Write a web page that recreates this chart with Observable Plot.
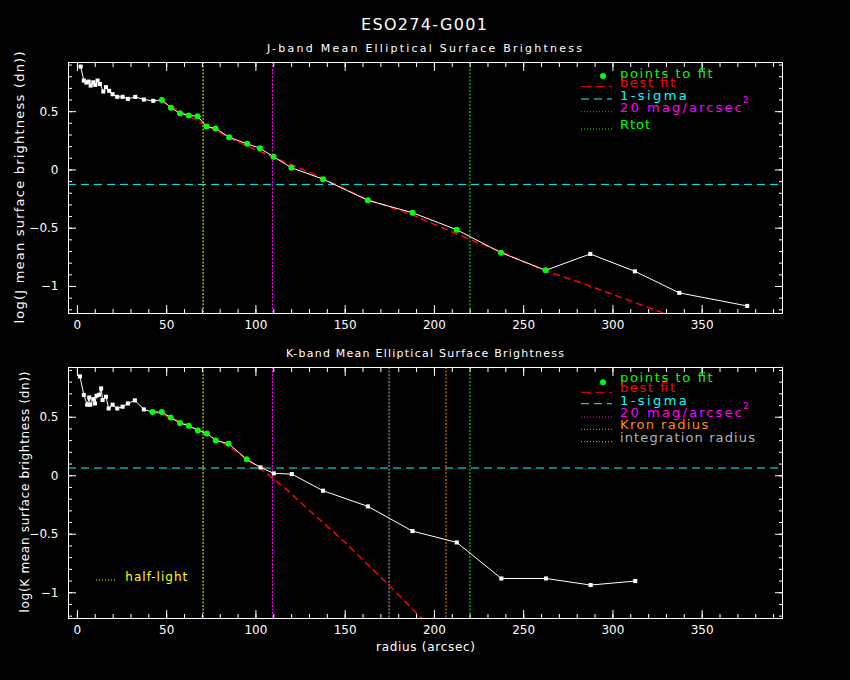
<!DOCTYPE html>
<html><head><meta charset="utf-8">
<script src="https://cdn.jsdelivr.net/npm/d3@7"></script>
<script src="https://cdn.jsdelivr.net/npm/@observablehq/plot@0.6"></script>
<style>
html,body{margin:0;padding:0;background:#000;}
#wrap{position:relative;width:850px;height:680px;background:#000;overflow:hidden;}
#wrap svg{position:absolute;left:0;}
</style></head><body><div id="wrap"></div>
<script>
// ---------- text ----------
const title = "ESO274-G001";
const jSubtitle = "J-band Mean Elliptical Surface Brightness";
const kSubtitle = "K-band Mean Elliptical Surface Brightness";
const jYLabel = "log(J mean surface brightness (dn))";
const kYLabel = "log(K mean surface brightness (dn))";
const xLabel = "radius (arcsec)";

// ---------- ticks ----------
const xTicks = [0, 50, 100, 150, 200, 250, 300, 350];
const yTicks = [-1, -0.5, 0, 0.5];

// ---------- J band profile ----------
const jRadius = [1.8, 3.6, 5.0, 6.3, 7.4, 8.9, 10.0, 11.3, 12.6, 14.5, 16.0, 17.8, 19.7, 22.3, 25.3, 28.3, 32.4, 37.2, 42.5,
  47.3, 52.4, 57.4, 62.4, 67.3, 72.3, 77.4, 85.0, 95.1, 102.2, 109.9, 119.9, 137.6, 162.7, 187.7, 212.5, 237.3, 262.3,
  287.3, 312.3, 337.2, 375.2];
const jValue = [0.887, 0.767, 0.75, 0.758, 0.724, 0.752, 0.73, 0.767, 0.738, 0.673, 0.71, 0.679, 0.65, 0.627, 0.627, 0.61, 0.627, 0.604, 0.593,
  0.601, 0.533, 0.487, 0.467, 0.461, 0.373, 0.356, 0.281, 0.224, 0.187, 0.113, 0.019, -0.079, -0.261, -0.367, -0.513, -0.71, -0.861,
  -0.721, -0.870, -1.055, -1.167];
const jFitRange = [47, 263];
const jFitRadius = [47, 50, 68.6, 88, 104, 132, 162.7, 187, 214, 237, 262, 285, 329];
const jFitValue = [0.59, 0.567, 0.41, 0.253, 0.147, -0.033, -0.255, -0.38, -0.56, -0.70, -0.865, -0.984, -1.232];
const jSigma = -0.124;
const jHalfLight = 70.4, jMag20 = 109.3, jRtot = 219.9;

// ---------- K band profile ----------
const kRadius = [1.4, 3.6, 5.5, 6.6, 7.2, 8.9, 9.8, 10.7, 12.2, 13.3, 14.1, 16.0, 17.5, 19.7, 22.3, 25.3, 28.3, 32.2, 37.2,
  42.1, 47.3, 52.2, 57.4, 62.4, 67.5, 72.5, 77.5, 84.7, 94.8, 102.6, 110.0, 120.1, 137.6, 162.7, 187.7, 212.5, 237.5, 262.5,
  287.5, 312.5];
const kValue = [0.849, 0.69, 0.607, 0.669, 0.607, 0.655, 0.618, 0.684, 0.692, 0.746, 0.647, 0.675, 0.575, 0.607, 0.575, 0.59, 0.618, 0.644, 0.567,
  0.544, 0.544, 0.498, 0.45, 0.427, 0.387, 0.362, 0.302, 0.274, 0.14, 0.071, 0.02, 0.014, -0.128, -0.262, -0.473, -0.57, -0.878, -0.878,
  -0.934, -0.9];
const kFitRange = [42, 95];
const kFitRadius = [42, 52, 62, 72, 85, 95, 105, 110, 117, 128, 149, 173, 193];
const kFitValue = [0.55, 0.50, 0.43, 0.36, 0.25, 0.14, 0.035, -0.03, -0.114, -0.27, -0.556, -0.912, -1.22];
const kSigma = 0.066;
const kHalfLight = 70.4, kMag20 = 109.3, kIntegration = 174.6, kKron = 206.5, kRtot = 219.9;

// ---------- legends ----------
const jLegendLabels = ["points to fit", "best fit", "1-sigma", "20 mag/arcsec", "Rtot"];
const kLegendLabels = ["points to fit", "best fit", "1-sigma", "20 mag/arcsec", "Kron radius", "integration radius"];

const C = {green:"#00ff00", red:"#ff0000", cyan:"#00ffff", magenta:"#ff00ff", yellow:"#ffff00", orange:"#ff8c00", grey:"#b4b4b4"};

function panel(o) {
  const pts = o.radius.map((r, i) => ({r, v: o.value[i]}));
  const fitPts = pts.filter(d => d.r >= o.fitRange[0] && d.r <= o.fitRange[1]);
  const model = o.fitRadius.map((r, i) => ({r, v: o.fitValue[i]}));
  const xMinor = d3.range(0, 400, 10);
  const yMinor = d3.range(-12, 10).map(i => i / 10);
  const fmt = d => d === 0 ? "0" : String(d).replace("-", "\u2212");
  const none = () => "";
  return Plot.plot({
    width: 850, height: 340,
    marginLeft: 68, marginRight: 68, marginTop: o.mt, marginBottom: o.mb,
    x: {domain: [-5, 395]},
    y: {domain: o.ydomain},
    style: {background: "black", color: "white", fontFamily: "DejaVu Sans, sans-serif", fontSize: "12px", overflow: "visible"},
    marks: [
      Plot.ruleY([o.sigma], {stroke: C.cyan, strokeDasharray: "8,5"}),
      ...o.vlines.map(v => Plot.ruleX([v.x], {stroke: v.color, strokeDasharray: "2,1.5"})),
      Plot.line(model, {x: "r", y: "v", stroke: C.red, strokeDasharray: "6,5"}),
      Plot.line(pts, {x: "r", y: "v", stroke: "white", strokeWidth: 1}),
      Plot.dot(pts, {x: "r", y: "v", symbol: "square", r: 2.3, fill: "white"}),
      Plot.dot(fitPts, {x: "r", y: "v", r: 3, fill: C.green}),
      Plot.axisX(xMinor, {anchor: "bottom", tickSize: -4, tickFormat: none, label: null}),
      Plot.axisX(xTicks, {anchor: "bottom", tickSize: -8, tickPadding: 15, tickFormat: fmt, label: null}),
      Plot.axisX(xMinor, {anchor: "top", tickSize: -4, tickFormat: none, label: null}),
      Plot.axisX(xTicks, {anchor: "top", tickSize: -8, tickFormat: none, label: null}),
      Plot.axisY(yMinor, {anchor: "left", tickSize: -4, tickFormat: none, label: null}),
      Plot.axisY(yTicks, {anchor: "left", tickSize: -8, tickPadding: 18, tickFormat: fmt, label: null}),
      Plot.axisY(yMinor, {anchor: "right", tickSize: -4, tickFormat: none, label: null}),
      Plot.axisY(yTicks, {anchor: "right", tickSize: -8, tickFormat: none, label: null}),
      Plot.frame({stroke: "white"})
    ]
  });
}

const wrap = document.getElementById("wrap");
const top1 = panel({radius: jRadius, value: jValue, fitRange: jFitRange, fitRadius: jFitRadius, fitValue: jFitValue,
  sigma: jSigma, ydomain: [-1.232, 0.922], mt: 62, mb: 27,
  vlines: [{x: jHalfLight, color: C.yellow}, {x: jMag20, color: C.magenta}, {x: jRtot, color: C.green}]});
top1.style.top = "0px";
wrap.appendChild(top1);

const bot = panel({radius: kRadius, value: kValue, fitRange: kFitRange, fitRadius: kFitRadius, fitValue: kFitValue,
  sigma: kSigma, ydomain: [-1.22, 0.925], mt: 27, mb: 62,
  vlines: [{x: kHalfLight, color: C.yellow}, {x: kMag20, color: C.magenta}, {x: kIntegration, color: C.grey},
           {x: kKron, color: C.orange}, {x: kRtot, color: C.green}]});
bot.style.top = "340px";
wrap.appendChild(bot);

// ---------- overlay texts & legends ----------
const ov = d3.select(wrap).append("svg").attr("width", 850).attr("height", 680).style("top", "0px")
  .style("font-family", "DejaVu Sans, sans-serif");
function txt(s, x, y, size, fill, len, extra = {}) {
  const t = ov.append("text").text(s).attr("x", x).attr("y", y).attr("font-size", size).attr("fill", fill);
  if (len) t.attr("textLength", len).attr("lengthAdjust", "spacing");
  for (const k in extra) t.attr(k, extra[k]);
  return t;
}
txt(title, 361, 30, 16, "white", 126);
txt(jSubtitle, 267, 51.7, 11, "white", 315);
txt(kSubtitle, 286, 357.3, 11, "white", 278);
txt(xLabel, 376, 651, 12, "white", 99);
txt(jYLabel, 0, 0, 13, "white", 272, {"text-anchor": "middle", transform: "translate(23.7,187.5) rotate(-90)"});
txt(kYLabel, 0, 0, 12, "white", 241, {"text-anchor": "middle", transform: "translate(28.7,492) rotate(-90)"});

function swatch(y, color, dash) {
  ov.append("line").attr("x1", 581).attr("x2", 612).attr("y1", y).attr("y2", y)
    .attr("stroke", color).attr("stroke-dasharray", dash);
}
function legend(labels, colors, baselines, swatchY, dashes, lens, dotY, supY) {
  ov.append("circle").attr("cx", 603).attr("cy", dotY).attr("r", 3).attr("fill", C.green);
  labels.forEach((s, i) => {
    txt(s, 620, baselines[i], 13, colors[i], lens[i]);
    if (i > 0) swatch(swatchY[i], colors[i], dashes[i]);
  });
  txt("2", 743, supY, 9, C.magenta);
}
legend(jLegendLabels, [C.green, C.red, C.cyan, C.magenta, C.green],
  [77.7, 86.7, 100, 111.7, 129], [0, 86.7, 99, 111.7, 129],
  [null, "10,4", "8,5", "1,2", "1,2"], [92.7, 55, 66.7, 121.7, 30], 76, 103.3);
legend(kLegendLabels, [C.green, C.red, C.cyan, C.magenta, C.orange, C.grey],
  [381.7, 391.7, 405, 416.7, 429.3, 441.7], [0, 392.3, 403.7, 417, 429.3, 441.7],
  [null, "10,4", "8,5", "1,2", "1,2", "1,2"], [92.7, 55, 66.7, 121.7, 88.3, 135], 382.3, 409.3);

// half-light legend
ov.append("line").attr("x1", 96).attr("x2", 117).attr("y1", 580).attr("y2", 580)
  .attr("stroke", C.yellow).attr("stroke-dasharray", "1,2");
txt("half-light", 125.3, 580.7, 12, C.yellow, 62);
</script></body></html>
